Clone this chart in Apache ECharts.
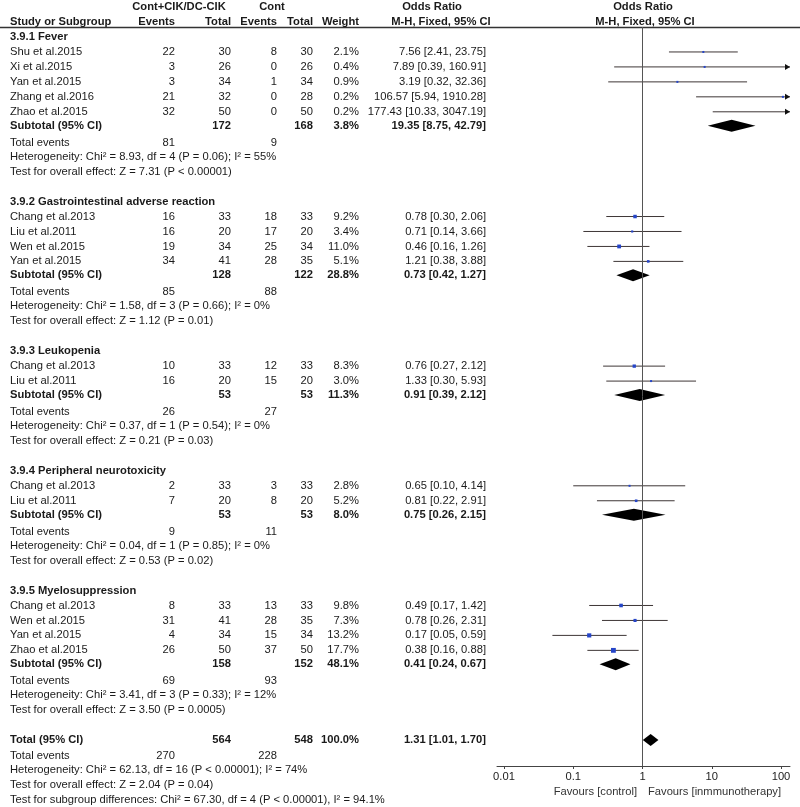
<!DOCTYPE html>
<html lang="en">
<head>
  <meta charset="UTF-8">
  <title>forest-plot</title>
  <style>
    html, body { margin: 0; padding: 0; background: #fff; }
    #forest { width: 800px; height: 807px; }
  </style>
</head>
<body>
  <div id="forest"></div>
  <script src="https://cdn.jsdelivr.net/npm/echarts@6/dist/echarts.min.js"></script>
  <script>
    // subgroups
    var groups = ['3.9.1 Fever', '3.9.2 Gastrointestinal adverse reaction', '3.9.3 Leukopenia',
      '3.9.4 Peripheral neurotoxicity', '3.9.5 Myelosuppression']
    var groupSizes = [5, 4, 2, 2, 4]

    // studies
    var studyNames = ['Shu et al.2015', 'Xi et al.2015', 'Yan et al.2015', 'Zhang et al.2016', 'Zhao et al.2015',
      'Chang et al.2013', 'Liu et al.2011', 'Wen et al.2015', 'Yan et al.2015',
      'Chang et al.2013', 'Liu et al.2011',
      'Chang et al.2013', 'Liu et al.2011',
      'Chang et al.2013', 'Wen et al.2015', 'Yan et al.2015', 'Zhao et al.2015']
    var expEvents = [22, 3, 3, 21, 32, 16, 16, 19, 34, 10, 16, 2, 7, 8, 31, 4, 26]
    var expTotal = [30, 26, 34, 32, 50, 33, 20, 34, 41, 33, 20, 33, 20, 33, 41, 34, 50]
    var ctlEvents = [8, 0, 1, 0, 0, 18, 17, 25, 28, 12, 15, 3, 8, 13, 28, 15, 37]
    var ctlTotal = [30, 26, 34, 28, 50, 33, 20, 34, 35, 33, 20, 33, 20, 33, 35, 34, 50]
    var weights = ['2.1', '0.4', '0.9', '0.2', '0.2', '9.2', '3.4', '11.0', '5.1', '8.3', '3.0', '2.8', '5.2', '9.8', '7.3', '13.2', '17.7']
    var orEst = ['7.56', '7.89', '3.19', '106.57', '177.43', '0.78', '0.71', '0.46', '1.21', '0.76', '1.33', '0.65', '0.81', '0.49', '0.78', '0.17', '0.38']
    var orLow = ['2.41', '0.39', '0.32', '5.94', '10.33', '0.30', '0.14', '0.16', '0.38', '0.27', '0.30', '0.10', '0.22', '0.17', '0.26', '0.05', '0.16']
    var orHigh = ['23.75', '160.91', '32.36', '1910.28', '3047.19', '2.06', '3.66', '1.26', '3.88', '2.12', '5.93', '4.14', '2.91', '1.42', '2.31', '0.59', '0.88']

    // subtotals
    var subExpTotal = [172, 128, 53, 53, 158]
    var subCtlTotal = [168, 122, 53, 53, 152]
    var subWeight = ['3.8', '28.8', '11.3', '8.0', '48.1']
    var subOr = ['19.35', '0.73', '0.91', '0.75', '0.41']
    var subLow = ['8.75', '0.42', '0.39', '0.26', '0.24']
    var subHigh = ['42.79', '1.27', '2.12', '2.15', '0.67']
    var subExpEvents = [81, 85, 26, 9, 69]
    var subCtlEvents = [9, 88, 27, 11, 93]
    var subHet = ['Chi\u00b2 = 8.93, df = 4 (P = 0.06); I\u00b2 = 55%', 'Chi\u00b2 = 1.58, df = 3 (P = 0.66); I\u00b2 = 0%',
      'Chi\u00b2 = 0.37, df = 1 (P = 0.54); I\u00b2 = 0%', 'Chi\u00b2 = 0.04, df = 1 (P = 0.85); I\u00b2 = 0%',
      'Chi\u00b2 = 3.41, df = 3 (P = 0.33); I\u00b2 = 12%']
    var subTest = ['Z = 7.31 (P < 0.00001)', 'Z = 1.12 (P = 0.01)', 'Z = 0.21 (P = 0.03)', 'Z = 0.53 (P = 0.02)', 'Z = 3.50 (P = 0.0005)']

    // overall
    var total = { expTotal: 564, ctlTotal: 548, weight: '100.0', or: '1.31', low: '1.01', high: '1.70', expEvents: 270, ctlEvents: 228 }
    var totalHet = 'Chi\u00b2 = 62.13, df = 16 (P < 0.00001); I\u00b2 = 74%'
    var totalTest = 'Z = 2.04 (P = 0.04)'
    var subgroupTest = 'Chi\u00b2 = 67.30, df = 4 (P < 0.00001), I\u00b2 = 94.1%'

    // axis ticks
    var tickValues = [0.01, 0.1, 1, 10, 100]
    var tickLabels = ['0.01', '0.1', '1', '10', '100']

    // layout
    var rowPx = 14.96, row0 = 37
    var col = { name: 10, expEv: 175, expTot: 231, ctlEv: 277, ctlTot: 313, weight: 359, or: 486 }
    var lineY = 27, axisY = 766
    var xMin = -2 - 7 / 69.3, xMax = 2 + 9 / 69.3

    var cells = []
    var marks = []
    function cell(x, row, text, align, bold) {
      cells.push({ x: x, row: row, text: String(text), align: align || 'right', bold: !!bold })
    }
    function ci(a, b, c) { return a + ' [' + b + ', ' + c + ']' }

    // header
    cell(179, -2, 'Cont+CIK/DC-CIK', 'center', true)
    cell(272, -2, 'Cont', 'center', true)
    cell(432, -2, 'Odds Ratio', 'center', true)
    cell(643, -2, 'Odds Ratio', 'center', true)
    cell(col.name, -1, 'Study or Subgroup', 'left', true)
    cell(col.expEv, -1, 'Events', 'right', true)
    cell(col.expTot, -1, 'Total', 'right', true)
    cell(col.ctlEv, -1, 'Events', 'right', true)
    cell(col.ctlTot, -1, 'Total', 'right', true)
    cell(col.weight, -1, 'Weight', 'right', true)
    cell(441, -1, 'M-H, Fixed, 95% CI', 'center', true)
    cell(645, -1, 'M-H, Fixed, 95% CI', 'center', true)

    var r = 0, s = 0
    groups.forEach(function (g, gi) {
      cell(col.name, r, g, 'left', true)
      for (var k = 0; k < groupSizes[gi]; k++, s++) {
        var row = r + 1 + k
        cell(col.name, row, studyNames[s], 'left')
        cell(col.expEv, row, expEvents[s])
        cell(col.expTot, row, expTotal[s])
        cell(col.ctlEv, row, ctlEvents[s])
        cell(col.ctlTot, row, ctlTotal[s])
        cell(col.weight, row, weights[s] + '%')
        cell(col.or, row, ci(orEst[s], orLow[s], orHigh[s]))
        marks.push([Math.log10(+orEst[s]), row, Math.log10(+orLow[s]), Math.log10(+orHigh[s]), +weights[s], 0])
      }
      var sr = r + groupSizes[gi] + 1 - 0.07
      cell(col.name, sr, 'Subtotal (95% CI)', 'left', true)
      cell(col.expTot, sr, subExpTotal[gi], 'right', true)
      cell(col.ctlTot, sr, subCtlTotal[gi], 'right', true)
      cell(col.weight, sr, subWeight[gi] + '%', 'right', true)
      cell(col.or, sr, ci(subOr[gi], subLow[gi], subHigh[gi]), 'right', true)
      marks.push([Math.log10(+subOr[gi]), sr, Math.log10(+subLow[gi]), Math.log10(+subHigh[gi]), 0, 1])
      var er = r + groupSizes[gi] + 2 + 0.07
      cell(col.name, er, 'Total events', 'left')
      cell(col.expEv, er, subExpEvents[gi])
      cell(col.ctlEv, er, subCtlEvents[gi])
      cell(col.name, r + groupSizes[gi] + 3, 'Heterogeneity: ' + subHet[gi], 'left')
      cell(col.name, r + groupSizes[gi] + 4, 'Test for overall effect: ' + subTest[gi], 'left')
      r += groupSizes[gi] + 6
    })

    cell(col.name, r, 'Total (95% CI)', 'left', true)
    cell(col.expTot, r, total.expTotal, 'right', true)
    cell(col.ctlTot, r, total.ctlTotal, 'right', true)
    cell(col.weight, r, total.weight + '%', 'right', true)
    cell(col.or, r, ci(total.or, total.low, total.high), 'right', true)
    marks.push([Math.log10(+total.or), r, Math.log10(+total.low), Math.log10(+total.high), 0, 1])
    cell(col.name, r + 1.07, 'Total events', 'left')
    cell(col.expEv, r + 1.07, total.expEvents)
    cell(col.ctlEv, r + 1.07, total.ctlEvents)
    cell(col.name, r + 2, 'Heterogeneity: ' + totalHet, 'left')
    cell(col.name, r + 3, 'Test for overall effect: ' + totalTest, 'left')
    cell(col.name, r + 4, 'Test for subgroup differences: ' + subgroupTest, 'left')

    var FONT = 'Arial, "Liberation Sans", sans-serif'
    var FS = 11.2
    var myChart = echarts.init(document.getElementById('forest'))
    var option = {
      animation: false,
      grid: [
        { left: 0, right: 0, top: 0, bottom: 0 },
        { left: 497, right: 10, top: lineY, bottom: 807 - axisY }
      ],
      xAxis: [
        { gridIndex: 0, type: 'value', min: 0, max: 800, show: false },
        {
          gridIndex: 1, type: 'value', min: xMin, max: xMax, position: 'bottom',
          splitLine: { show: false },
          axisLine: { show: true, onZero: false, lineStyle: { color: '#444', width: 1 } },
          axisTick: { show: true, length: 3, customValues: tickValues.map(Math.log10), lineStyle: { color: '#444' } },
          axisLabel: {
            customValues: tickValues.map(Math.log10), margin: 5, color: '#222', fontSize: FS, fontFamily: FONT,
            formatter: function (v) { return tickLabels[Math.round(v) + 2] }
          }
        }
      ],
      yAxis: [
        { gridIndex: 0, type: 'value', inverse: true, min: -row0 / rowPx, max: (807 - row0) / rowPx, show: false },
        { gridIndex: 1, type: 'value', inverse: true, min: (lineY - row0) / rowPx, max: (axisY - row0) / rowPx, show: false }
      ],
      series: [
        {
          type: 'custom', xAxisIndex: 0, yAxisIndex: 0, silent: true,
          data: cells.map(function (c) { return [c.x, c.row] }),
          renderItem: function (params, api) {
            var c = cells[params.dataIndex]
            var p = api.coord([c.x, c.row])
            return {
              type: 'text', x: p[0], y: p[1],
              style: {
                text: c.text, align: c.align, verticalAlign: 'middle',
                fontSize: FS, fontWeight: c.bold ? 'bold' : 'normal', fontFamily: FONT, fill: '#1a1a1a'
              }
            }
          },
          markLine: {
            silent: true, symbol: 'none', label: { show: false },
            lineStyle: { color: '#333', width: 1.3, type: 'solid' },
            data: [{ yAxis: (lineY - row0) / rowPx }]
          }
        },
        {
          type: 'custom', xAxisIndex: 1, yAxisIndex: 1, silent: true, clip: false,
          encode: { x: [0, 2, 3], y: 1 },
          data: marks,
          renderItem: function (params, api) {
            var est = api.value(0), row = api.value(1), lo = api.value(2), hi = api.value(3)
            var w = api.value(4), kind = api.value(5)
            var pe = api.coord([est, row]), pl = api.coord([Math.max(lo, xMin), row]), ph = api.coord([Math.min(hi, xMax), row])
            if (kind === 1) {
              var h = 6
              return {
                type: 'polygon',
                shape: { points: [[api.coord([lo, row])[0], pe[1]], [pe[0], pe[1] - h], [api.coord([hi, row])[0], pe[1]], [pe[0], pe[1] + h]] },
                style: { fill: '#000' }
              }
            }
            var children = [{
              type: 'line', shape: { x1: pl[0], y1: pl[1], x2: ph[0], y2: ph[1] },
              style: { stroke: '#3e3636', lineWidth: 1 }
            }]
            if (hi > xMax) {
              children.push({
                type: 'polygon',
                shape: { points: [[ph[0], ph[1]], [ph[0] - 5, ph[1] - 3], [ph[0] - 5, ph[1] + 3]] },
                style: { fill: '#111' }
              })
            }
            if (est <= xMax && est >= xMin) {
              var sz = Math.max(2, 1.15 * Math.sqrt(w))
              children.push({
                type: 'rect', shape: { x: pe[0] - sz / 2, y: pe[1] - sz / 2, width: sz, height: sz },
                style: { fill: '#2545c8' }
              })
            }
            return { type: 'group', children: children }
          },
          markLine: {
            silent: true, symbol: 'none', label: { show: false },
            lineStyle: { color: '#555', width: 1, type: 'solid' },
            data: [{ xAxis: 0 }]
          }
        }
      ],
      graphic: [
        { type: 'text', x: 637, y: 792, style: { text: 'Favours [control]', align: 'right', verticalAlign: 'middle', fontSize: FS, fontFamily: FONT, fill: '#333' } },
        { type: 'text', x: 648, y: 792, style: { text: 'Favours [inmmunotherapy]', align: 'left', verticalAlign: 'middle', fontSize: FS, fontFamily: FONT, fill: '#333' } }
      ]
    }
    myChart.setOption(option, true)
  </script>
</body>
</html>
